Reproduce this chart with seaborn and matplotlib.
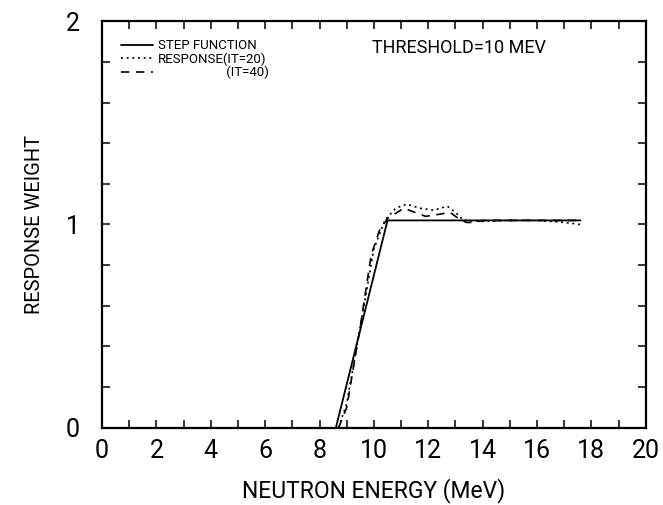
import numpy as np
import pandas as pd
import seaborn as sns
import matplotlib.pyplot as plt
from matplotlib.ticker import MultipleLocator

# step function (ramp into the threshold, then flat)
step_e = [8.6, 10.5, 17.6]
step_w = [0.0, 1.02, 1.02]

# response with IT=20 (dotted)
it20_e = [8.7, 9.0, 9.5, 10.0, 10.4, 10.8, 11.2, 11.7, 12.2, 12.7, 13.0, 13.3, 14.0, 15.0, 16.0, 17.0, 17.6]
it20_w = [0.0, 0.12, 0.50, 0.88, 1.02, 1.08, 1.10, 1.08, 1.07, 1.09, 1.06, 1.02, 1.015, 1.02, 1.02, 1.01, 1.00]

# response with IT=40 (dashed)
it40_e = [8.7, 9.0, 9.5, 9.9, 10.2, 10.5, 11.1, 11.9, 12.4, 12.8, 13.1, 13.4, 13.7, 14.0, 15.0, 16.0, 17.0, 17.6]
it40_w = [0.0, 0.10, 0.50, 0.85, 0.97, 1.03, 1.08, 1.04, 1.05, 1.06, 1.03, 1.01, 1.01, 1.02, 1.02, 1.02, 1.02, 1.02]

x_ticks = [0, 2, 4, 6, 8, 10, 12, 14, 16, 18, 20]
y_ticks = [0, 1, 2]

sns.set_style("ticks")
plt.rcParams['font.family'] = ['Roboto', 'DejaVu Sans']
plt.rcParams['text.color'] = 'black'
plt.rcParams['axes.labelcolor'] = 'black'

fig = plt.figure(figsize=(6.63, 5.05), dpi=100)
ax = fig.add_axes([0.154, 0.153, 0.820, 0.805])

step_df = pd.DataFrame({'E': step_e, 'W': step_w})
it20_df = pd.DataFrame({'E': it20_e, 'W': it20_w})
it40_df = pd.DataFrame({'E': it40_e, 'W': it40_w})

sns.lineplot(data=step_df, x='E', y='W', ax=ax, color='black', lw=1.3,
             label='STEP FUNCTION', sort=False)
sns.lineplot(data=it20_df, x='E', y='W', ax=ax, color='black', lw=1.2,
             linestyle=(0, (1.2, 2.2)), label='RESPONSE(IT=20)', sort=False)
sns.lineplot(data=it40_df, x='E', y='W', ax=ax, color='black', lw=1.2,
             linestyle=(0, (5, 4)), label='                     (IT=40)', sort=False)

ax.set_xlim(0, 20)
ax.set_ylim(0, 2)
ax.set_xticks(x_ticks)
ax.set_yticks(y_ticks)
ax.xaxis.set_minor_locator(MultipleLocator(1))
ax.yaxis.set_minor_locator(MultipleLocator(0.2))
ax.tick_params(which='both', direction='in', top=True, right=True,
               length=6, width=1.1, colors='black')
ax.tick_params(axis='x', which='major', labelsize=18, pad=8)
ax.tick_params(axis='y', which='major', labelsize=18, pad=16)
for sp in ax.spines.values():
    sp.set_visible(True)
    sp.set_linewidth(1.6)
    sp.set_color('black')

ax.set_xlabel('NEUTRON ENERGY (MeV)', fontsize=16.5, labelpad=11)
ax.set_ylabel('RESPONSE WEIGHT', fontsize=14.5, labelpad=16)

ax.text(0.497, 0.935, 'THRESHOLD=10 MEV', transform=ax.transAxes,
        fontsize=13, ha='left', va='center')

leg = ax.legend(loc='upper left', bbox_to_anchor=(0.025, 0.968), frameon=False,
                fontsize=9.5, handlelength=2.4, handletextpad=0.4,
                labelspacing=0.0, borderaxespad=0)

fig.savefig('out.png', dpi=100)
